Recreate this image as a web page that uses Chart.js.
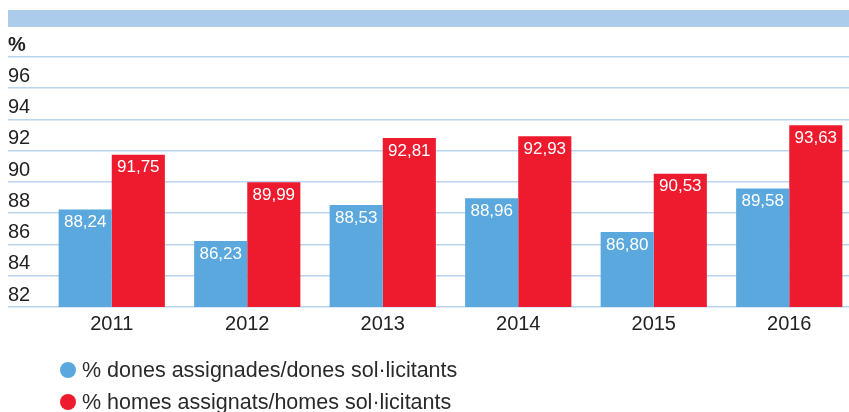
<!DOCTYPE html>
<html>
<head>
<meta charset="utf-8">
<script src="https://cdn.jsdelivr.net/npm/chart.js@4.4.1/dist/chart.umd.min.js"></script>
<style>
  html, body { margin: 0; padding: 0; background: #fff; overflow: hidden; }
  #wrap { position: relative; width: 849px; height: 412px; overflow: hidden; }
  #band { position: absolute; left: 8px; top: 10px; width: 841px; height: 17px; background: #abcdeb; }
  #chart { position: absolute; left: 0; top: 0; }
  #legend { position: absolute; left: 60px; top: 354px; font-family: "Liberation Sans", Arial, sans-serif; font-size: 21.5px; color: #2a2a2a; }
  .item { display: flex; align-items: center; height: 32px; }
  .dot { width: 16px; height: 16px; border-radius: 50%; margin-right: 6px; flex: none; }
</style>
</head>
<body>
<div id="wrap">
  <div id="band"></div>
  <canvas id="chart" width="857" height="412"></canvas>
  <div id="legend"></div>
</div>
<script>
const categories = ['2011', '2012', '2013', '2014', '2015', '2016'];
const womenValues = [88.24, 86.23, 88.53, 88.96, 86.80, 89.58];
const menValues = [91.75, 89.99, 92.81, 92.93, 90.53, 93.63];
const seriesLabels = ['% dones assignades/dones sol·licitants', '% homes assignats/homes sol·licitants'];
const seriesColors = ['#5aa8dd', '#ee1b2e'];
const yMin = 82, yMax = 98, yStep = 2;
const unitLabel = '%';

const FONT = '"Liberation Sans", Arial, sans-serif';

const valueLabels = {
  id: 'valueLabels',
  afterDatasetsDraw(chart) {
    const ctx = chart.ctx;
    ctx.save();
    ctx.font = '17px ' + FONT;
    ctx.fillStyle = '#ffffff';
    ctx.textAlign = 'center';
    ctx.textBaseline = 'middle';
    chart.data.datasets.forEach((ds, i) => {
      const meta = chart.getDatasetMeta(i);
      meta.data.forEach((el, j) => {
        const v = ds.data[j];
        ctx.fillText(v.toFixed(2).replace('.', ','), el.x, el.y + 13);
      });
    });
    ctx.restore();
  }
};

new Chart(document.getElementById('chart'), {
  type: 'bar',
  data: {
    labels: categories,
    datasets: [
      { label: seriesLabels[0], data: womenValues, backgroundColor: seriesColors[0], barPercentage: 1, categoryPercentage: 0.784 },
      { label: seriesLabels[1], data: menValues, backgroundColor: seriesColors[1], barPercentage: 1, categoryPercentage: 0.784 }
    ]
  },
  options: {
    responsive: false,
    animation: false,
    layout: { padding: { left: 8, right: 0, top: 57, bottom: 73 } },
    plugins: { legend: { display: false }, tooltip: { enabled: false } },
    scales: {
      x: {
        grid: { display: false, drawTicks: false, tickLength: 0 },
        border: { display: false },
        ticks: { font: { size: 20, family: FONT }, color: '#222', padding: 5 },
        afterFit(scale) { scale.height = 32; }
      },
      y: {
        min: yMin, max: yMax,
        grid: { color: '#b9d4ee', lineWidth: 1.6, tickLength: 36, drawTicks: true },
        border: { display: false },
        ticks: {
          stepSize: yStep,
          crossAlign: 'far',
          padding: 0,
          labelOffset: -12,
          color: '#222',
          font: (c) => (c.tick && c.tick.value === yMax)
            ? { size: 20, family: FONT, weight: 'bold' }
            : { size: 20, family: FONT },
          callback: (v) => v === yMax ? unitLabel : String(v)
        },
        afterFit(scale) { scale.width = 36; }
      }
    }
  },
  plugins: [valueLabels]
});

const legend = document.getElementById('legend');
seriesLabels.forEach((l, i) => {
  const d = document.createElement('div');
  d.className = 'item';
  const dot = document.createElement('span');
  dot.className = 'dot';
  dot.style.background = seriesColors[i];
  const t = document.createElement('span');
  t.textContent = l;
  d.appendChild(dot); d.appendChild(t);
  legend.appendChild(d);
});
</script>
</body>
</html>
